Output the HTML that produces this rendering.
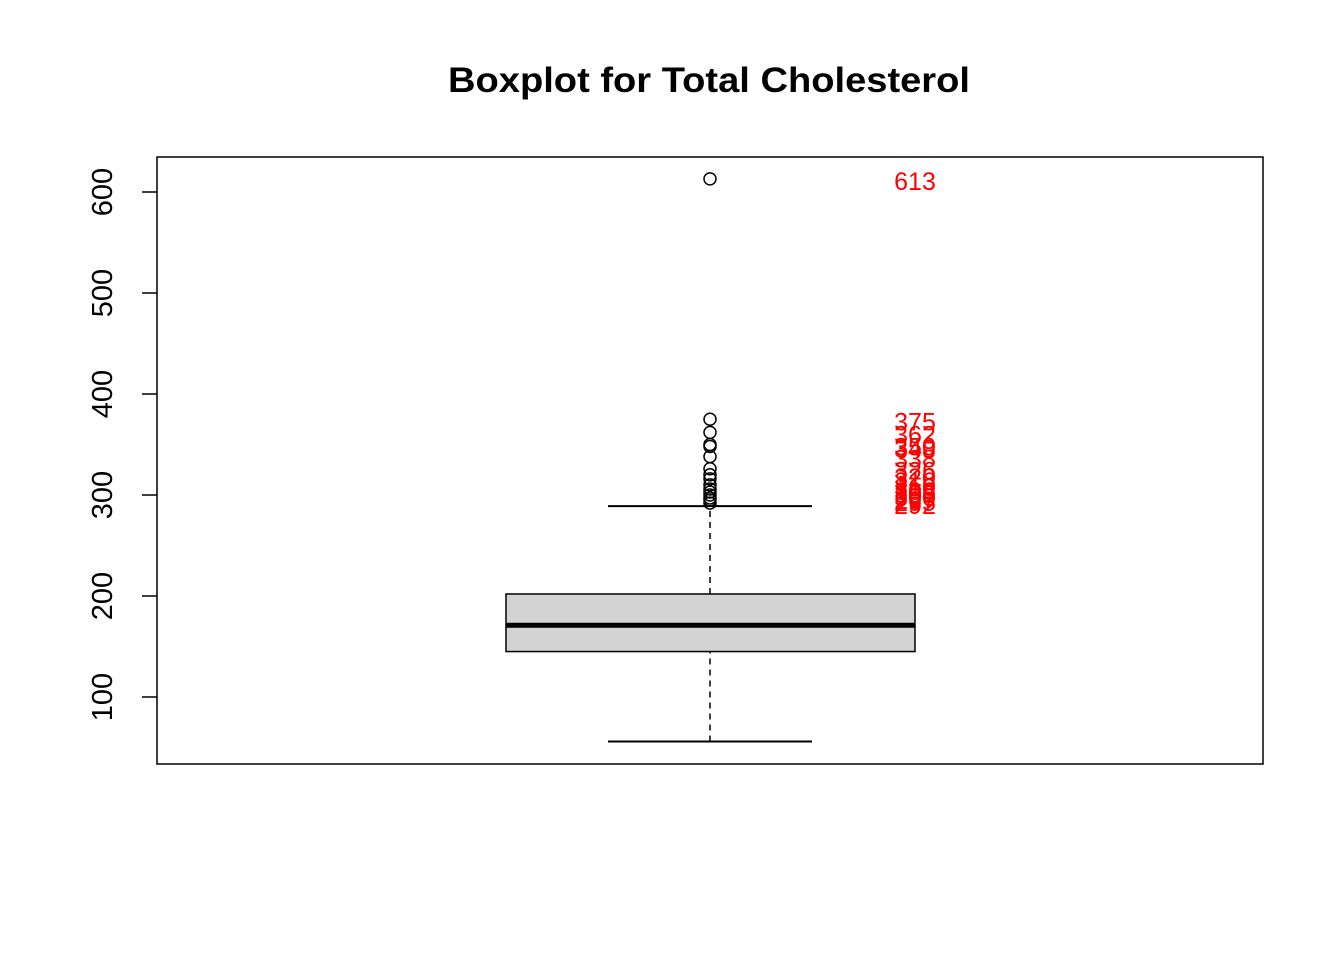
<!DOCTYPE html>
<html><head><meta charset="utf-8"><style>body{margin:0;background:#fff}svg{display:block}</style></head>
<body>
<svg id="c" width="1344" height="960" xmlns="http://www.w3.org/2000/svg" font-family="Liberation Sans, sans-serif">
<text x="709" y="92" text-anchor="middle" font-size="35" font-weight="bold" textLength="522" lengthAdjust="spacingAndGlyphs">Boxplot for Total Cholesterol</text>
<rect x="157" y="157" width="1106" height="607" fill="none" stroke="#000" stroke-width="1.5"/>
<g id="g"></g>
</svg>
<script>
const ticks=[100,200,300,400,500,600];
const stats=[56,145,171,202,289]; // min, q1, median, q3, max whisker
const outliers=[613,375,362,350,348,338,326,320,316,310,306,303,300,297,295,292];
const y=v=>697-(v-100)*1.01;
const g=document.getElementById('g');
const NS='http://www.w3.org/2000/svg';
function mk(t,a,txt){const e=document.createElementNS(NS,t);for(const k in a)e.setAttribute(k,a[k]);if(txt!=null)e.textContent=txt;g.appendChild(e);return e;}
ticks.forEach(t=>{
 const l=mk('line',{x1:142,x2:157,y1:y(t),y2:y(t),stroke:'#000','stroke-width':1.5});
 
 
 const tx=mk('text',{x:112,y:y(t),'font-size':29,'text-anchor':'middle',transform:`rotate(-90 112 ${y(t)})`},t);
 
 
});
const cx=710;
const w1=mk('line',{x1:cx,x2:cx,y1:y(stats[0]),y2:y(stats[1]),stroke:'#000','stroke-width':1.5,'stroke-dasharray':'6,5'});


const w2=mk('line',{x1:cx,x2:cx,y1:y(stats[3]),y2:y(stats[4]),stroke:'#000','stroke-width':1.5,'stroke-dasharray':'6,5'});


[stats[0],stats[4]].forEach(v=>{
 const c=mk('line',{x1:608,x2:812,y1:y(v),y2:y(v),stroke:'#000','stroke-width':2});
 
 
});
const box=mk('rect',{x:506,width:409,y:y(stats[3]),height:y(stats[1])-y(stats[3]),fill:'#d3d3d3',stroke:'#000','stroke-width':1.5});


const med=mk('line',{x1:506,x2:915,y1:y(stats[2]),y2:y(stats[2]),stroke:'#000','stroke-width':5});


outliers.forEach(v=>{
 const c=mk('circle',{cx:cx,cy:y(v),r:6,fill:'none',stroke:'#000','stroke-width':1.5});
 
 
 const t=mk('text',{x:915,y:y(v)+11,'font-size':25,fill:'#f00','text-anchor':'middle'},v);
 
 
});
</script>
</body></html>
